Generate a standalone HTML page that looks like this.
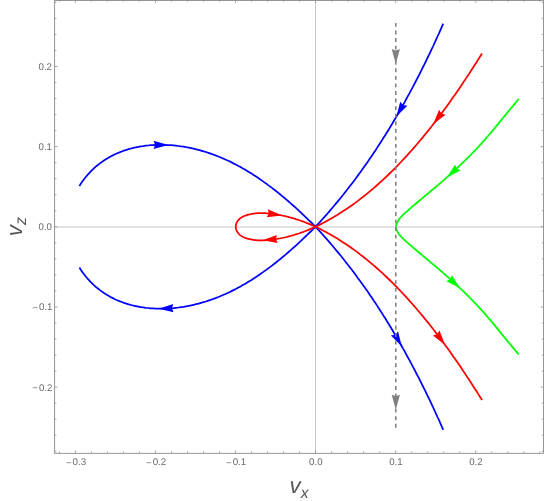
<!DOCTYPE html>
<html><head><meta charset="utf-8"><title>Phase portrait v_x v_z</title>
<style>
html,body{margin:0;padding:0;background:#fff;}
body{width:545px;height:501px;overflow:hidden;font-family:"Liberation Sans",sans-serif;}
svg{display:block;will-change:transform;text-rendering:geometricPrecision;}
</style></head><body>
<svg width="545" height="501" viewBox="0 0 545 501">
<rect width="545" height="501" fill="#fff"/>
<line x1="54.6" y1="227" x2="543.5" y2="227" stroke="#c6c6c6" stroke-width="1"/>
<line x1="315.5" y1="0.5" x2="315.5" y2="453.35" stroke="#c6c6c6" stroke-width="1"/>
<path d="M79.4,185.9L80.9,183.6L82.4,181.4L84.0,179.3L85.6,177.2L87.3,175.2L89.0,173.3L90.8,171.4L92.6,169.6L94.4,167.9L96.3,166.2L98.2,164.7L100.2,163.1L102.2,161.7L104.3,160.3L106.3,159.0L108.5,157.7L110.6,156.5L112.8,155.4L115.0,154.3L117.2,153.3L119.5,152.4L121.7,151.5L124.0,150.6L126.4,149.9L128.7,149.2L131.1,148.5L133.5,147.9L135.9,147.4L138.3,146.9L140.8,146.4L143.2,146.1L145.7,145.7L148.2,145.5L150.7,145.2L153.2,145.1L155.7,144.9L158.2,144.9L160.8,144.9L163.3,144.9L165.8,145.0L168.4,145.1L170.9,145.2L173.5,145.4L176.0,145.7L178.5,146.0L181.1,146.4L183.6,146.7L186.1,147.2L188.6,147.6L191.1,148.1L193.6,148.7L196.1,149.3L198.6,149.9L201.0,150.6L203.5,151.3L205.9,152.0L208.3,152.8L210.7,153.6L213.1,154.5L215.5,155.4L217.8,156.3L220.2,157.2L222.5,158.2L224.8,159.2L227.1,160.3L229.4,161.3L231.6,162.4L233.9,163.6L236.2,164.7L238.4,165.9L240.6,167.1L242.8,168.4L245.0,169.6L247.2,170.9L249.3,172.3L251.5,173.6L253.6,175.0L255.7,176.3L257.9,177.7L260.0,179.2L262.0,180.6L264.1,182.1L266.2,183.6L268.2,185.1L270.3,186.6L272.3,188.1L274.3,189.7L276.3,191.3L278.3,192.9L280.3,194.5L282.2,196.1L284.2,197.7L286.1,199.3L288.0,201.0L289.9,202.7L291.8,204.3L293.7,206.0L295.6,207.7L297.5,209.4L299.3,211.1L301.2,212.8L303.0,214.6L304.8,216.3L306.6,218.0L308.4,219.8L310.2,221.5L312.0,223.2L313.7,225.0L315.5,226.7" fill="none" stroke="#0000ff" stroke-width="1.75" stroke-linejoin="round"/>
<path d="M79.4,267.6L80.9,269.9L82.4,272.1L84.0,274.2L85.6,276.3L87.3,278.3L89.0,280.2L90.8,282.1L92.6,283.9L94.4,285.6L96.3,287.3L98.2,288.8L100.2,290.4L102.2,291.8L104.3,293.2L106.3,294.5L108.5,295.8L110.6,297.0L112.8,298.1L115.0,299.2L117.2,300.2L119.5,301.1L121.7,302.0L124.0,302.9L126.4,303.6L128.7,304.3L131.1,305.0L133.5,305.6L135.9,306.1L138.3,306.6L140.8,307.1L143.2,307.4L145.7,307.8L148.2,308.0L150.7,308.3L153.2,308.4L155.7,308.6L158.2,308.6L160.8,308.6L163.3,308.6L165.8,308.5L168.4,308.4L170.9,308.3L173.5,308.1L176.0,307.8L178.5,307.5L181.1,307.1L183.6,306.8L186.1,306.3L188.6,305.9L191.1,305.4L193.6,304.8L196.1,304.2L198.6,303.6L201.0,302.9L203.5,302.2L205.9,301.5L208.3,300.7L210.7,299.9L213.1,299.0L215.5,298.1L217.8,297.2L220.2,296.3L222.5,295.3L224.8,294.3L227.1,293.2L229.4,292.2L231.6,291.1L233.9,289.9L236.2,288.8L238.4,287.6L240.6,286.4L242.8,285.1L245.0,283.9L247.2,282.6L249.3,281.2L251.5,279.9L253.6,278.5L255.7,277.2L257.9,275.8L260.0,274.3L262.0,272.9L264.1,271.4L266.2,269.9L268.2,268.4L270.3,266.9L272.3,265.4L274.3,263.8L276.3,262.2L278.3,260.6L280.3,259.0L282.2,257.4L284.2,255.8L286.1,254.2L288.0,252.5L289.9,250.8L291.8,249.2L293.7,247.5L295.6,245.8L297.5,244.1L299.3,242.4L301.2,240.7L303.0,238.9L304.8,237.2L306.6,235.5L308.4,233.7L310.2,232.0L312.0,230.3L313.7,228.5L315.5,226.8" fill="none" stroke="#0000ff" stroke-width="1.75" stroke-linejoin="round"/>
<path d="M315.5,226.7L317.9,224.2L320.3,221.6L322.6,219.0L324.9,216.4L327.3,213.8L329.6,211.1L331.8,208.5L334.1,205.8L336.3,203.1L338.6,200.4L340.8,197.7L343.0,195.0L345.1,192.3L347.3,189.5L349.4,186.8L351.6,184.0L353.7,181.2L355.8,178.4L357.8,175.6L359.9,172.8L361.9,170.0L364.0,167.1L366.0,164.3L368.0,161.4L369.9,158.6L371.9,155.7L373.8,152.8L375.8,149.9L377.7,146.9L379.6,144.0L381.5,141.1L383.3,138.1L385.2,135.2L387.0,132.2L388.9,129.2L390.7,126.3L392.5,123.3L394.2,120.3L396.0,117.2L397.8,114.2L399.5,111.2L401.2,108.2L402.9,105.1L404.7,102.1L406.3,99.0L408.0,95.9L409.7,92.9L411.3,89.8L413.0,86.7L414.6,83.6L416.2,80.5L417.8,77.4L419.4,74.3L421.0,71.2L422.5,68.0L424.1,64.9L425.6,61.8L427.1,58.6L428.7,55.5L430.2,52.3L431.7,49.2L433.2,46.0L434.6,42.8L436.1,39.7L437.5,36.5L439.0,33.3L440.4,30.1L441.8,26.9L443.2,23.7" fill="none" stroke="#0000ff" stroke-width="1.75" stroke-linejoin="round"/>
<path d="M315.5,226.8L317.9,229.3L320.3,231.9L322.6,234.5L324.9,237.1L327.3,239.7L329.6,242.4L331.8,245.0L334.1,247.7L336.3,250.4L338.6,253.1L340.8,255.8L343.0,258.5L345.1,261.2L347.3,264.0L349.4,266.7L351.6,269.5L353.7,272.3L355.8,275.1L357.8,277.9L359.9,280.7L361.9,283.5L364.0,286.4L366.0,289.2L368.0,292.1L369.9,294.9L371.9,297.8L373.8,300.7L375.8,303.6L377.7,306.6L379.6,309.5L381.5,312.4L383.3,315.4L385.2,318.3L387.0,321.3L388.9,324.3L390.7,327.2L392.5,330.2L394.2,333.2L396.0,336.3L397.8,339.3L399.5,342.3L401.2,345.3L402.9,348.4L404.7,351.4L406.3,354.5L408.0,357.6L409.7,360.6L411.3,363.7L413.0,366.8L414.6,369.9L416.2,373.0L417.8,376.1L419.4,379.2L421.0,382.3L422.5,385.5L424.1,388.6L425.6,391.7L427.1,394.9L428.7,398.0L430.2,401.2L431.7,404.3L433.2,407.5L434.6,410.7L436.1,413.8L437.5,417.0L439.0,420.2L440.4,423.4L441.8,426.6L443.2,429.8" fill="none" stroke="#0000ff" stroke-width="1.75" stroke-linejoin="round"/>
<path d="M235.7,226.8L235.9,225.3L236.2,224.0L236.6,222.8L237.2,221.7L237.9,220.7L238.7,219.7L239.5,218.9L240.5,218.1L241.5,217.4L242.6,216.8L243.7,216.2L244.9,215.7L246.1,215.3L247.3,214.9L248.5,214.6L249.8,214.3L251.0,214.0L252.3,213.8L253.6,213.6L254.8,213.4L256.1,213.3L257.4,213.2L258.7,213.2L259.9,213.1L261.2,213.1L262.5,213.1L263.8,213.2L265.1,213.2L266.4,213.3L267.7,213.4L269.0,213.5L270.3,213.7L271.6,213.8L272.8,214.0L274.1,214.2L275.4,214.4L276.6,214.5L277.9,214.8L279.2,215.0L280.4,215.2L281.7,215.5L282.9,215.7L284.2,216.0L285.4,216.2L286.6,216.5L287.9,216.8L289.1,217.2L290.3,217.5L291.6,217.8L292.8,218.2L294.0,218.5L295.2,218.9L296.4,219.3L297.6,219.6L298.8,220.0L300.1,220.5L301.3,220.9L302.5,221.3L303.7,221.7L304.8,222.2L306.0,222.7L307.2,223.1L308.4,223.6L309.6,224.1L310.8,224.6L312.0,225.1L313.1,225.7L314.3,226.2L315.5,226.8" fill="none" stroke="#ff0000" stroke-width="1.75" stroke-linejoin="round"/>
<path d="M235.7,226.7L235.9,228.2L236.2,229.5L236.6,230.7L237.2,231.8L237.9,232.8L238.7,233.8L239.5,234.6L240.5,235.4L241.5,236.1L242.6,236.7L243.7,237.3L244.9,237.8L246.1,238.2L247.3,238.6L248.5,238.9L249.8,239.2L251.0,239.5L252.3,239.7L253.6,239.9L254.8,240.1L256.1,240.2L257.4,240.3L258.7,240.3L259.9,240.4L261.2,240.4L262.5,240.4L263.8,240.3L265.1,240.3L266.4,240.2L267.7,240.1L269.0,240.0L270.3,239.8L271.6,239.7L272.8,239.5L274.1,239.3L275.4,239.1L276.6,239.0L277.9,238.7L279.2,238.5L280.4,238.3L281.7,238.0L282.9,237.8L284.2,237.5L285.4,237.3L286.6,237.0L287.9,236.7L289.1,236.3L290.3,236.0L291.6,235.7L292.8,235.3L294.0,235.0L295.2,234.6L296.4,234.2L297.6,233.9L298.8,233.5L300.1,233.0L301.3,232.6L302.5,232.2L303.7,231.8L304.8,231.3L306.0,230.8L307.2,230.4L308.4,229.9L309.6,229.4L310.8,228.9L312.0,228.4L313.1,227.8L314.3,227.3L315.5,226.7" fill="none" stroke="#ff0000" stroke-width="1.75" stroke-linejoin="round"/>
<path d="M315.5,226.8L318.7,225.2L321.9,223.6L325.0,221.9L328.1,220.2L331.2,218.5L334.2,216.7L337.3,214.9L340.2,213.0L343.2,211.1L346.1,209.2L349.0,207.2L351.9,205.2L354.8,203.1L357.6,201.1L360.4,198.9L363.2,196.8L365.9,194.6L368.6,192.4L371.3,190.1L374.0,187.8L376.7,185.5L379.3,183.2L381.9,180.8L384.5,178.4L387.0,176.0L389.6,173.5L392.1,171.1L394.6,168.6L397.1,166.1L399.5,163.5L401.9,161.0L404.3,158.4L406.7,155.8L409.1,153.2L411.5,150.5L413.8,147.9L416.1,145.2L418.4,142.5L420.7,139.8L423.0,137.1L425.2,134.3L427.4,131.6L429.7,128.8L431.9,126.0L434.0,123.2L436.2,120.4L438.3,117.6L440.5,114.8L442.6,112.0L444.7,109.1L446.8,106.2L448.8,103.4L450.9,100.5L452.9,97.6L455.0,94.7L457.0,91.8L459.0,88.9L461.0,85.9L462.9,83.0L464.9,80.1L466.8,77.1L468.8,74.2L470.7,71.3L472.6,68.3L474.5,65.3L476.4,62.4L478.3,59.4L480.1,56.5L482.0,53.5" fill="none" stroke="#ff0000" stroke-width="1.75" stroke-linejoin="round"/>
<path d="M315.5,226.7L318.7,228.3L321.9,229.9L325.0,231.6L328.1,233.3L331.2,235.0L334.2,236.8L337.3,238.6L340.2,240.5L343.2,242.4L346.1,244.3L349.0,246.3L351.9,248.3L354.8,250.4L357.6,252.4L360.4,254.6L363.2,256.7L365.9,258.9L368.6,261.1L371.3,263.4L374.0,265.7L376.7,268.0L379.3,270.3L381.9,272.7L384.5,275.1L387.0,277.5L389.6,280.0L392.1,282.4L394.6,284.9L397.1,287.4L399.5,290.0L401.9,292.5L404.3,295.1L406.7,297.7L409.1,300.3L411.5,303.0L413.8,305.6L416.1,308.3L418.4,311.0L420.7,313.7L423.0,316.4L425.2,319.2L427.4,321.9L429.7,324.7L431.9,327.5L434.0,330.3L436.2,333.1L438.3,335.9L440.5,338.7L442.6,341.5L444.7,344.4L446.8,347.3L448.8,350.1L450.9,353.0L452.9,355.9L455.0,358.8L457.0,361.7L459.0,364.6L461.0,367.6L462.9,370.5L464.9,373.4L466.8,376.4L468.8,379.3L470.7,382.2L472.6,385.2L474.5,388.2L476.4,391.1L478.3,394.1L480.1,397.0L482.0,400.0" fill="none" stroke="#ff0000" stroke-width="1.75" stroke-linejoin="round"/>
<path d="M395.8,226.7L396.4,224.5L397.2,222.4L398.3,220.5L399.5,218.7L401.0,217.0L402.5,215.4L404.1,213.9L405.8,212.4L407.5,210.9L409.1,209.4L410.9,207.9L412.6,206.4L414.3,204.9L416.0,203.5L417.7,202.0L419.5,200.5L421.2,199.1L422.9,197.6L424.7,196.2L426.4,194.7L428.2,193.3L429.9,191.8L431.6,190.4L433.4,188.9L435.1,187.5L436.8,186.0L438.6,184.6L440.3,183.1L442.0,181.6L443.7,180.1L445.4,178.6L447.1,177.1L448.8,175.6L450.5,174.1L452.2,172.6L453.8,171.1L455.5,169.6L457.2,168.0L458.8,166.5L460.4,164.9L462.1,163.4L463.7,161.8L465.3,160.2L466.9,158.6L468.5,157.1L470.1,155.5L471.7,153.8L473.3,152.2L474.8,150.6L476.4,149.0L477.9,147.3L479.5,145.7L481.0,144.0L482.5,142.3L484.0,140.6L485.5,138.9L487.0,137.2L488.5,135.5L489.9,133.8L491.4,132.1L492.8,130.3L494.3,128.6L495.7,126.9L497.2,125.1L498.6,123.4L500.0,121.6L501.5,119.8L502.9,118.1L504.3,116.3L505.8,114.6L507.2,112.8L508.6,111.1L510.1,109.3L511.5,107.6L513.0,105.9L514.4,104.1L515.9,102.4L517.3,100.7L518.8,99.0" fill="none" stroke="#00ff00" stroke-width="1.75" stroke-linejoin="round"/>
<path d="M395.8,226.8L396.4,229.0L397.2,231.1L398.3,233.0L399.5,234.8L401.0,236.5L402.5,238.1L404.1,239.6L405.8,241.1L407.5,242.6L409.1,244.1L410.9,245.6L412.6,247.1L414.3,248.6L416.0,250.0L417.7,251.5L419.5,253.0L421.2,254.4L422.9,255.9L424.7,257.3L426.4,258.8L428.2,260.2L429.9,261.7L431.6,263.1L433.4,264.6L435.1,266.0L436.8,267.5L438.6,268.9L440.3,270.4L442.0,271.9L443.7,273.4L445.4,274.9L447.1,276.4L448.8,277.9L450.5,279.4L452.2,280.9L453.8,282.4L455.5,283.9L457.2,285.5L458.8,287.0L460.4,288.6L462.1,290.1L463.7,291.7L465.3,293.3L466.9,294.9L468.5,296.4L470.1,298.0L471.7,299.7L473.3,301.3L474.8,302.9L476.4,304.5L477.9,306.2L479.5,307.8L481.0,309.5L482.5,311.2L484.0,312.9L485.5,314.6L487.0,316.3L488.5,318.0L489.9,319.7L491.4,321.4L492.8,323.2L494.3,324.9L495.7,326.6L497.2,328.4L498.6,330.1L500.0,331.9L501.5,333.7L502.9,335.4L504.3,337.2L505.8,338.9L507.2,340.7L508.6,342.4L510.1,344.2L511.5,345.9L513.0,347.6L514.4,349.4L515.9,351.1L517.3,352.8L518.8,354.5" fill="none" stroke="#00ff00" stroke-width="1.75" stroke-linejoin="round"/>
<polygon fill="#0000ff" points="168.42,145.07 153.58,149.02 155.02,144.93 153.66,140.82"/>
<polygon fill="#0000ff" points="158.60,308.63 173.27,304.08 172.00,308.22 173.52,312.27"/>
<polygon fill="#0000ff" points="396.43,116.53 400.22,101.64 403.08,104.90 407.34,105.72"/>
<polygon fill="#0000ff" points="401.84,346.41 390.91,335.62 395.16,334.79 398.02,331.53"/>
<polygon fill="#ff0000" points="282.00,215.52 266.75,217.32 268.75,213.48 267.99,209.22"/>
<polygon fill="#ff0000" points="262.58,240.36 276.93,234.90 275.92,239.11 277.70,243.06"/>
<polygon fill="#ff0000" points="433.36,124.12 439.07,109.86 441.48,113.46 445.59,114.83"/>
<polygon fill="#ff0000" points="445.08,344.94 432.95,335.53 437.07,334.20 439.53,330.62"/>
<polygon fill="#00ff00" points="446.82,177.40 455.05,164.43 456.76,168.41 460.55,170.52"/>
<polygon fill="#00ff00" points="460.05,288.19 446.39,281.16 450.20,279.09 451.96,275.13"/>
<line x1="395.8" y1="22.97" x2="395.8" y2="427.75" stroke="#808080" stroke-width="1.55" stroke-dasharray="3.85 3.714"/>
<polygon fill="#808080" points="395.80,64.10 391.70,49.00 395.80,50.40 399.90,49.00"/>
<polygon fill="#808080" points="395.80,409.80 391.70,394.70 395.80,396.10 399.90,394.70"/>
<rect x="54.6" y="0.5" width="488.9" height="452.85" fill="none" stroke="#909090" stroke-width="0.95"/>
<path d="M59.38,453.35 v-1.8 M59.38,0.5 v1.2000000000000002 M75.39,453.35 v-3.0 M75.39,0.5 v2.4 M91.40,453.35 v-1.8 M91.40,0.5 v1.2000000000000002 M107.42,453.35 v-1.8 M107.42,0.5 v1.2000000000000002 M123.43,453.35 v-1.8 M123.43,0.5 v1.2000000000000002 M139.45,453.35 v-1.8 M139.45,0.5 v1.2000000000000002 M155.46,453.35 v-3.0 M155.46,0.5 v2.4 M171.47,453.35 v-1.8 M171.47,0.5 v1.2000000000000002 M187.49,453.35 v-1.8 M187.49,0.5 v1.2000000000000002 M203.50,453.35 v-1.8 M203.50,0.5 v1.2000000000000002 M219.52,453.35 v-1.8 M219.52,0.5 v1.2000000000000002 M235.53,453.35 v-3.0 M235.53,0.5 v2.4 M251.54,453.35 v-1.8 M251.54,0.5 v1.2000000000000002 M267.56,453.35 v-1.8 M267.56,0.5 v1.2000000000000002 M283.57,453.35 v-1.8 M283.57,0.5 v1.2000000000000002 M299.59,453.35 v-1.8 M299.59,0.5 v1.2000000000000002 M315.60,453.35 v-3.0 M315.60,0.5 v2.4 M331.61,453.35 v-1.8 M331.61,0.5 v1.2000000000000002 M347.63,453.35 v-1.8 M347.63,0.5 v1.2000000000000002 M363.64,453.35 v-1.8 M363.64,0.5 v1.2000000000000002 M379.66,453.35 v-1.8 M379.66,0.5 v1.2000000000000002 M395.67,453.35 v-3.0 M395.67,0.5 v2.4 M411.68,453.35 v-1.8 M411.68,0.5 v1.2000000000000002 M427.70,453.35 v-1.8 M427.70,0.5 v1.2000000000000002 M443.71,453.35 v-1.8 M443.71,0.5 v1.2000000000000002 M459.73,453.35 v-1.8 M459.73,0.5 v1.2000000000000002 M475.74,453.35 v-3.0 M475.74,0.5 v2.4 M491.75,453.35 v-1.8 M491.75,0.5 v1.2000000000000002 M507.77,453.35 v-1.8 M507.77,0.5 v1.2000000000000002 M523.78,453.35 v-1.8 M523.78,0.5 v1.2000000000000002 M539.80,453.35 v-1.8 M539.80,0.5 v1.2000000000000002 M54.6,451.22 h1.8 M543.5,451.22 h-1.8 M54.6,435.19 h1.8 M543.5,435.19 h-1.8 M54.6,419.16 h1.8 M543.5,419.16 h-1.8 M54.6,403.13 h1.8 M543.5,403.13 h-1.8 M54.6,387.10 h3.0 M543.5,387.10 h-3.0 M54.6,371.07 h1.8 M543.5,371.07 h-1.8 M54.6,355.04 h1.8 M543.5,355.04 h-1.8 M54.6,339.01 h1.8 M543.5,339.01 h-1.8 M54.6,322.98 h1.8 M543.5,322.98 h-1.8 M54.6,306.95 h3.0 M543.5,306.95 h-3.0 M54.6,290.92 h1.8 M543.5,290.92 h-1.8 M54.6,274.89 h1.8 M543.5,274.89 h-1.8 M54.6,258.86 h1.8 M543.5,258.86 h-1.8 M54.6,242.83 h1.8 M543.5,242.83 h-1.8 M54.6,226.80 h3.0 M543.5,226.80 h-3.0 M54.6,210.77 h1.8 M543.5,210.77 h-1.8 M54.6,194.74 h1.8 M543.5,194.74 h-1.8 M54.6,178.71 h1.8 M543.5,178.71 h-1.8 M54.6,162.68 h1.8 M543.5,162.68 h-1.8 M54.6,146.65 h3.0 M543.5,146.65 h-3.0 M54.6,130.62 h1.8 M543.5,130.62 h-1.8 M54.6,114.59 h1.8 M543.5,114.59 h-1.8 M54.6,98.56 h1.8 M543.5,98.56 h-1.8 M54.6,82.53 h1.8 M543.5,82.53 h-1.8 M54.6,66.50 h3.0 M543.5,66.50 h-3.0 M54.6,50.47 h1.8 M543.5,50.47 h-1.8 M54.6,34.44 h1.8 M543.5,34.44 h-1.8 M54.6,18.41 h1.8 M543.5,18.41 h-1.8 M54.6,2.38 h1.8 M543.5,2.38 h-1.8" stroke="#909090" stroke-width="0.8" fill="none"/>
<g font-family="Liberation Sans, sans-serif" font-size="9.7" fill="#6a6a6a">
<text x="75.59" y="464.9" text-anchor="middle"><tspan dx="0.4" dy="0.8">−</tspan><tspan dx="1.0" dy="-0.8">0.3</tspan></text>
<text x="155.66" y="464.9" text-anchor="middle"><tspan dx="0.4" dy="0.8">−</tspan><tspan dx="1.0" dy="-0.8">0.2</tspan></text>
<text x="235.73" y="464.9" text-anchor="middle"><tspan dx="0.4" dy="0.8">−</tspan><tspan dx="1.0" dy="-0.8">0.1</tspan></text>
<text x="315.80" y="464.9" text-anchor="middle">0.0</text>
<text x="395.87" y="464.9" text-anchor="middle">0.1</text>
<text x="475.94" y="464.9" text-anchor="middle">0.2</text>
<text x="52.0" y="390.55" text-anchor="end"><tspan dx="0.4" dy="0.8">−</tspan><tspan dx="1.0" dy="-0.8">0.2</tspan></text>
<text x="52.0" y="310.40" text-anchor="end"><tspan dx="0.4" dy="0.8">−</tspan><tspan dx="1.0" dy="-0.8">0.1</tspan></text>
<text x="52.0" y="230.25" text-anchor="end">0.0</text>
<text x="52.0" y="150.10" text-anchor="end">0.1</text>
<text x="52.0" y="69.95" text-anchor="end">0.2</text>
</g>
<g font-family="Liberation Sans, sans-serif" font-style="italic" fill="#555555">
<text x="289.4" y="492.8" font-size="22.3">v<tspan font-size="15.6" dy="5.3" dx="0.3">x</tspan></text>
<text transform="translate(21.5,236.2) rotate(-90)" font-size="22.3">v<tspan font-size="16" dy="4.4">z</tspan></text>
</g>
</svg>
</body></html>
